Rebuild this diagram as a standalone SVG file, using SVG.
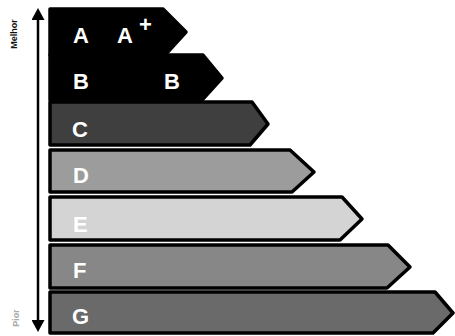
<svg xmlns="http://www.w3.org/2000/svg" width="455" height="336" viewBox="0 0 455 336">
<defs>
<style>
.bar{stroke:#000;stroke-width:3.5;stroke-linejoin:round}
.lbl{font-family:"Liberation Sans",Arial,sans-serif;font-weight:bold;font-size:22px;fill:#fff}
.side{font-family:"Liberation Sans",Arial,sans-serif;font-weight:bold;font-size:9px}
</style>
<marker id="ah" viewBox="0 0 12 13" refX="6" refY="6.5" markerWidth="12" markerHeight="13" markerUnits="userSpaceOnUse" orient="auto-start-reverse">
<path d="M0,0 L12,6.5 L0,13 Z" fill="#000"/>
</marker>
</defs>
<rect width="455" height="336" fill="#fff"/>
<g id="connectors">
<line x1="38" y1="14" x2="38" y2="326" stroke="#000" stroke-width="2.5" marker-start="url(#ah)" marker-end="url(#ah)"/>
</g>
<g id="axis-labels">
<text class="side" transform="translate(17,34) rotate(-90)" text-anchor="middle" fill="#111">Melhor</text>
<text class="side" transform="translate(19,318) rotate(-90)" text-anchor="middle" fill="#aaa" font-weight="normal">Pior</text>
</g>
<g id="node-A">
<polygon class="bar" points="50,9 163,9 186,32 165,55 50,55" fill="#000"/>
<text class="lbl" x="73" y="43">A</text>
<text class="lbl" x="117" y="43">A</text>
<text class="lbl" x="139" y="32" font-size="8">+</text>
</g>
<g id="node-B">
<polygon class="bar" points="50,55 203,55 222,78 202,100 50,100" fill="#000"/>
<text class="lbl" x="73" y="89">B</text>
<text class="lbl" x="164" y="89">B</text>
</g>
<g id="node-C">
<polygon class="bar" points="50,102 252,102 268,124 250,145 50,145" fill="#3f3f3f"/>
<text class="lbl" x="72" y="137">C</text>
</g>
<g id="node-D">
<polygon class="bar" points="50,150 290,150 314,172 292,192 50,192" fill="#9c9c9c"/>
<text class="lbl" x="73" y="183" fill="#eee">D</text>
</g>
<g id="node-E">
<polygon class="bar" points="50,197 342,197 362,219 340,240 50,240" fill="#d4d4d4"/>
<text class="lbl" x="73" y="232" fill="#f6f6f6">E</text>
</g>
<g id="node-F">
<polygon class="bar" points="50,245 388,245 410,267 387,288 50,288" fill="#878787"/>
<text class="lbl" x="73" y="278">F</text>
</g>
<g id="node-G">
<polygon class="bar" points="50,292 435,292 453,313 433,333 50,333" fill="#6a6a6a"/>
<text class="lbl" x="72" y="324">G</text>
</g>
</svg>
